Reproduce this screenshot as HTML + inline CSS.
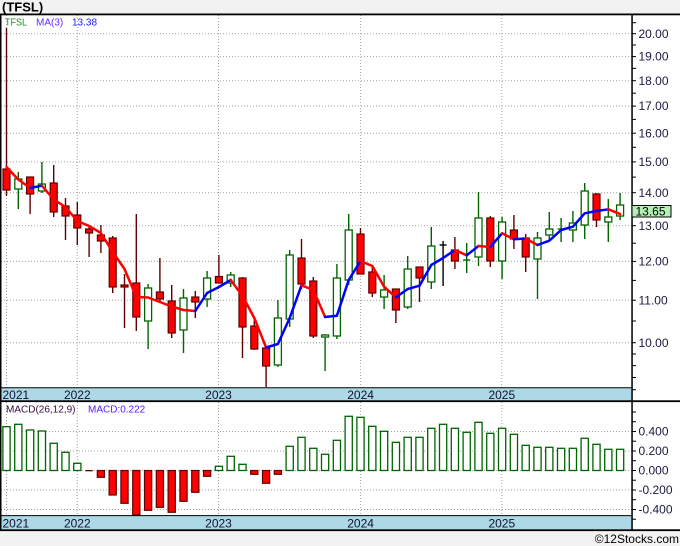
<!DOCTYPE html>
<html><head><meta charset="utf-8"><style>
html,body{margin:0;padding:0;background:#f2f2f2;}
svg{display:block;font-family:"Liberation Sans",sans-serif;}
.rw{stroke:#600000;stroke-width:1.4}
.rb{fill:#ff0000;stroke:#600000;stroke-width:1.2}
.gw{stroke:#006400;stroke-width:1.4}
.gb{fill:#ffffff;stroke:#006400;stroke-width:1.3}
.grid{stroke:#a0a0a0;stroke-width:1;stroke-dasharray:1,2}
.ax{font-size:12px;fill:#1a1a40}
.yr{font-size:12px;fill:#101030}
.tk{stroke:#000;stroke-width:1}
</style></head><body>
<svg width="680" height="546" viewBox="0 0 680 546" xmlns="http://www.w3.org/2000/svg">
<rect x="0" y="0" width="680" height="546" fill="#f2f2f2"/>
<rect x="0" y="14" width="680" height="516" fill="#ffffff"/>
<text x="2" y="11.5" font-size="13" font-weight="bold" fill="#000">(TFSL)</text>

<!-- main grid -->
<g class="grid">
<line x1="1" x2="632" y1="342.7" y2="342.7"/><line x1="1" x2="632" y1="300.2" y2="300.2"/>
<line x1="1" x2="632" y1="261.4" y2="261.4"/><line x1="1" x2="632" y1="225.7" y2="225.7"/>
<line x1="1" x2="632" y1="192.7" y2="192.7"/><line x1="1" x2="632" y1="161.9" y2="161.9"/>
<line x1="1" x2="632" y1="133.2" y2="133.2"/><line x1="1" x2="632" y1="106.1" y2="106.1"/>
<line x1="1" x2="632" y1="80.7" y2="80.7"/><line x1="1" x2="632" y1="56.6" y2="56.6"/>
<line x1="1" x2="632" y1="33.7" y2="33.7"/>
<line x1="6.5" x2="6.5" y1="15" y2="388"/><line x1="77.3" x2="77.3" y1="15" y2="388"/>
<line x1="218.5" x2="218.5" y1="15" y2="388"/><line x1="360.6" x2="360.6" y1="15" y2="388"/>
<line x1="501.8" x2="501.8" y1="15" y2="388"/>
<!-- macd grid -->
<line x1="1" x2="632" y1="431.5" y2="431.5"/><line x1="1" x2="632" y1="451" y2="451"/>
<line x1="1" x2="632" y1="470.5" y2="470.5"/><line x1="1" x2="632" y1="490" y2="490"/>
<line x1="1" x2="632" y1="509.5" y2="509.5"/>
<line x1="6.5" x2="6.5" y1="402" y2="516"/><line x1="77.3" x2="77.3" y1="402" y2="516"/>
<line x1="218.5" x2="218.5" y1="402" y2="516"/><line x1="360.6" x2="360.6" y1="402" y2="516"/>
<line x1="501.8" x2="501.8" y1="402" y2="516"/>
</g>

<!-- candles -->
<g>
<line class="rw" x1="6.5" x2="6.5" y1="28" y2="196"/><rect class="rb" x="3" y="169" width="7" height="21"/>
<line class="gw" x1="18.3" x2="18.3" y1="172" y2="209"/><rect class="gb" x="14.8" y="179" width="7" height="10"/>
<line class="rw" x1="30.1" x2="30.1" y1="177" y2="214"/><rect class="rb" x="26.6" y="177" width="7" height="17"/>
<line class="gw" x1="41.9" x2="41.9" y1="162" y2="193"/><rect class="gb" x="38.4" y="184" width="7" height="7"/>
<line class="rw" x1="53.7" x2="53.7" y1="165" y2="217"/><rect class="rb" x="50.2" y="183" width="7" height="29"/>
<line class="rw" x1="65.5" x2="65.5" y1="198" y2="240"/><rect class="rb" x="62" y="206" width="7" height="10"/>
<line class="rw" x1="77.3" x2="77.3" y1="202" y2="245"/><rect class="rb" x="73.8" y="215" width="7" height="13"/>
<line class="rw" x1="89.1" x2="89.1" y1="227" y2="257"/><rect class="rb" x="85.6" y="229" width="7" height="4"/>
<line class="rw" x1="100.9" x2="100.9" y1="225" y2="253"/><rect class="rb" x="97.4" y="235" width="7" height="6"/>
<line class="rw" x1="112.7" x2="112.7" y1="236" y2="293"/><rect class="rb" x="109.2" y="238" width="7" height="49"/>
<line class="rw" x1="124.5" x2="124.5" y1="274" y2="328"/><rect class="rb" x="121" y="285" width="7" height="2"/>
<line class="rw" x1="136.3" x2="136.3" y1="214" y2="331"/><rect class="rb" x="132.8" y="283" width="7" height="34"/>
<line class="gw" x1="148.1" x2="148.1" y1="284" y2="349"/><rect class="gb" x="144.6" y="288" width="7" height="33"/>
<line class="rw" x1="159.9" x2="159.9" y1="258" y2="303"/><rect class="rb" x="156.4" y="292" width="7" height="7"/>
<line class="rw" x1="171.7" x2="171.7" y1="285" y2="338"/><rect class="rb" x="168.2" y="301" width="7" height="32"/>
<line class="gw" x1="183.5" x2="183.5" y1="289" y2="353"/><rect class="gb" x="180" y="298" width="7" height="32"/>
<line class="rw" x1="195.3" x2="195.3" y1="291" y2="318"/><rect class="rb" x="191.8" y="297" width="7" height="5"/>
<line class="gw" x1="207.1" x2="207.1" y1="271" y2="307"/><rect class="gb" x="203.6" y="278" width="7" height="21"/>
<line class="rw" x1="218.9" x2="218.9" y1="255" y2="283"/><rect class="rb" x="215.4" y="276.5" width="7" height="6.5"/>
<line class="gw" x1="230.7" x2="230.7" y1="272" y2="287"/><rect class="gb" x="227.2" y="275" width="7" height="8"/>
<line class="rw" x1="242.5" x2="242.5" y1="277" y2="358"/><rect class="rb" x="239" y="278" width="7" height="49"/>
<line class="rw" x1="254.3" x2="254.3" y1="320" y2="350"/><rect class="rb" x="250.8" y="326" width="7" height="23"/>
<line class="rw" x1="266.1" x2="266.1" y1="347" y2="387"/><rect class="rb" x="262.6" y="348" width="7" height="18"/>
<line class="gw" x1="277.9" x2="277.9" y1="300" y2="367"/><rect class="gb" x="274.4" y="318" width="7" height="47"/>
<line class="gw" x1="289.7" x2="289.7" y1="250" y2="327"/><rect class="gb" x="286.2" y="255" width="7" height="64"/>
<line class="rw" x1="301.5" x2="301.5" y1="239" y2="289"/><rect class="rb" x="298" y="258" width="7" height="26"/>
<line class="rw" x1="313.3" x2="313.3" y1="277" y2="338"/><rect class="rb" x="309.8" y="281" width="7" height="55"/>
<line class="gw" x1="325.1" x2="325.1" y1="334" y2="371"/><rect class="gb" x="321.6" y="335" width="7" height="2"/>
<line class="gw" x1="336.9" x2="336.9" y1="264" y2="339"/><rect class="gb" x="333.4" y="278" width="7" height="58"/>
<line class="gw" x1="348.7" x2="348.7" y1="214" y2="285"/><rect class="gb" x="345.2" y="230" width="7" height="50"/>
<line class="rw" x1="360.5" x2="360.5" y1="228" y2="274"/><rect class="rb" x="357" y="234" width="7" height="40"/>
<line class="rw" x1="372.3" x2="372.3" y1="265" y2="297"/><rect class="rb" x="368.8" y="272" width="7" height="21"/>
<line class="gw" x1="384.1" x2="384.1" y1="275" y2="309"/><rect class="gb" x="380.6" y="290" width="7" height="7"/>
<line class="rw" x1="395.9" x2="395.9" y1="289" y2="323"/><rect class="rb" x="392.4" y="289" width="7" height="21"/>
<line class="gw" x1="407.7" x2="407.7" y1="256" y2="309"/><rect class="gb" x="404.2" y="269" width="7" height="38"/>
<line class="rw" x1="419.5" x2="419.5" y1="267" y2="302"/><rect class="rb" x="416" y="267" width="7" height="11"/>
<line class="gw" x1="431.3" x2="431.3" y1="227" y2="289"/><rect class="gb" x="427.8" y="246" width="7" height="36"/>
<line x1="443.1" x2="443.1" y1="241" y2="286" stroke="#000" stroke-width="1.4"/><line x1="439.6" x2="446.6" y1="245" y2="245" stroke="#000" stroke-width="1.4"/>
<line class="rw" x1="454.9" x2="454.9" y1="237" y2="269"/><rect class="rb" x="451.4" y="250" width="7" height="11"/>
<line class="gw" x1="466.7" x2="466.7" y1="243" y2="273"/><line class="gw" x1="463.2" x2="470.2" y1="260" y2="260"/>
<line class="gw" x1="478.5" x2="478.5" y1="192" y2="266"/><rect class="gb" x="475" y="218" width="7" height="39"/>
<line class="rw" x1="490.3" x2="490.3" y1="216" y2="267"/><rect class="rb" x="486.8" y="218" width="7" height="43"/>
<line class="gw" x1="502.1" x2="502.1" y1="217" y2="279"/><rect class="gb" x="498.6" y="222" width="7" height="39"/>
<line class="rw" x1="513.9" x2="513.9" y1="215" y2="249"/><rect class="rb" x="510.4" y="230" width="7" height="9"/>
<line class="rw" x1="525.7" x2="525.7" y1="234" y2="272"/><rect class="rb" x="522.2" y="238" width="7" height="19"/>
<line class="gw" x1="537.5" x2="537.5" y1="232" y2="299"/><rect class="gb" x="534" y="238" width="7" height="21"/>
<line class="gw" x1="549.3" x2="549.3" y1="212" y2="240"/><rect class="gb" x="545.8" y="229" width="7" height="6"/>
<line class="gw" x1="561.1" x2="561.1" y1="218" y2="242"/><line class="gw" x1="557.6" x2="564.6" y1="229" y2="229"/>
<line class="gw" x1="572.9" x2="572.9" y1="211" y2="242"/><rect class="gb" x="569.4" y="223" width="7" height="7"/>
<line class="gw" x1="584.7" x2="584.7" y1="183" y2="239"/><rect class="gb" x="581.2" y="191" width="7" height="34"/>
<line class="rw" x1="596.5" x2="596.5" y1="193" y2="227"/><rect class="rb" x="593" y="194" width="7" height="26"/>
<line class="gw" x1="608.3" x2="608.3" y1="199" y2="242"/><rect class="gb" x="604.8" y="217" width="7" height="5"/>
<line class="gw" x1="620.1" x2="620.1" y1="193" y2="220"/><rect class="gb" x="616.6" y="205" width="7" height="11"/>
</g>

<!-- MA(3) -->
<g fill="none" stroke-width="2.5" stroke-linejoin="round" stroke-linecap="round">
<polyline stroke="#ff0000" points="6.5,167 18.3,179.5 30.1,188"/>
<polyline stroke="#0000ff" points="30.1,188 41.9,185.7"/>
<polyline stroke="#ff0000" points="41.9,185.7 53.7,199.5 65.5,207 77.3,221 89.1,226 100.9,233 112.7,252 124.5,269 136.3,297 148.1,297.5 159.9,302 171.7,306.5 183.5,310 195.3,311"/>
<polyline stroke="#0000ff" points="195.3,311 207.1,293 218.9,287 230.7,280"/>
<polyline stroke="#ff0000" points="230.7,280 242.5,296 254.3,318 266.1,347.5"/>
<polyline stroke="#0000ff" points="266.1,347.5 277.9,344 289.7,318 301.5,285.3"/>
<polyline stroke="#ff0000" points="301.5,285.3 313.3,290 325.1,317"/>
<polyline stroke="#0000ff" points="325.1,317 336.9,315.7 348.7,280 360.5,261"/>
<polyline stroke="#ff0000" points="360.5,261 372.3,266 384.1,286.7 395.9,297.3"/>
<polyline stroke="#0000ff" points="395.9,297.3 407.7,289 419.5,285.7 431.3,265 443.1,258 454.9,250"/>
<polyline stroke="#ff0000" points="454.9,250 466.7,255.3"/>
<polyline stroke="#0000ff" points="466.7,255.3 478.5,246"/>
<polyline stroke="#ff0000" points="478.5,246 490.3,247"/>
<polyline stroke="#0000ff" points="490.3,247 502.1,233.3"/>
<polyline stroke="#ff0000" points="502.1,233.3 513.9,239.3"/>
<polyline stroke="#0000ff" points="513.9,239.3 525.7,238.5"/>
<polyline stroke="#ff0000" points="525.7,238.5 537.5,245"/>
<polyline stroke="#0000ff" points="537.5,245 549.3,240.7 561.1,230 572.9,226.7 584.7,213.3 596.5,211 608.3,209.3"/>
<polyline stroke="#ff0000" points="608.3,209.3 620.1,214"/>
</g>

<!-- legend -->
<text x="5" y="25.7" font-size="10" fill="#228b22" textLength="22" lengthAdjust="spacingAndGlyphs">TFSL</text>
<text x="36" y="25.7" font-size="10" fill="#6a2cff">MA(3)</text>
<text x="72" y="25.7" font-size="10" fill="#1a1aff">13.38</text>

<!-- MACD bars -->
<g>
<rect class="gb" x="2.9" y="426.7" width="7.2" height="43.8"/>
<rect class="gb" x="14.7" y="424.3" width="7.2" height="46.2"/>
<rect class="gb" x="26.5" y="430" width="7.2" height="40.5"/>
<rect class="gb" x="38.3" y="431" width="7.2" height="39.5"/>
<rect class="gb" x="50.1" y="443.3" width="7.2" height="27.2"/>
<rect class="gb" x="61.9" y="452.3" width="7.2" height="18.2"/>
<rect class="gb" x="73.7" y="463.3" width="7.2" height="7.2"/>
<rect x="85.5" y="470" width="7.2" height="1.3" fill="#600000"/>
<rect class="rb" x="97.3" y="470.5" width="7.2" height="6.8"/>
<rect class="rb" x="109.1" y="470.5" width="7.2" height="24.5"/>
<rect class="rb" x="120.9" y="470.5" width="7.2" height="32.8"/>
<rect class="rb" x="132.7" y="470.5" width="7.2" height="44.5"/>
<rect class="rb" x="144.5" y="470.5" width="7.2" height="39.8"/>
<rect class="rb" x="156.3" y="470.5" width="7.2" height="36.8"/>
<rect class="rb" x="168.1" y="470.5" width="7.2" height="41.8"/>
<rect class="rb" x="179.9" y="470.5" width="7.2" height="30.8"/>
<rect class="rb" x="191.7" y="470.5" width="7.2" height="21.8"/>
<rect class="rb" x="203.5" y="470.5" width="7.2" height="5.8"/>
<rect class="gb" x="215.3" y="466.3" width="7.2" height="4.2"/>
<rect class="gb" x="227.1" y="456.3" width="7.2" height="14.2"/>
<rect class="gb" x="238.9" y="464.3" width="7.2" height="6.2"/>
<rect class="rb" x="250.7" y="470.5" width="7.2" height="3.8"/>
<rect class="rb" x="262.5" y="470.5" width="7.2" height="12.8"/>
<rect class="rb" x="274.3" y="470.5" width="7.2" height="3.8"/>
<rect class="gb" x="286.1" y="446.3" width="7.2" height="24.2"/>
<rect class="gb" x="297.9" y="437.3" width="7.2" height="33.2"/>
<rect class="gb" x="309.7" y="448.3" width="7.2" height="22.2"/>
<rect class="gb" x="321.5" y="454.3" width="7.2" height="16.2"/>
<rect class="gb" x="333.3" y="440.3" width="7.2" height="30.2"/>
<rect class="gb" x="345.1" y="416.3" width="7.2" height="54.2"/>
<rect class="gb" x="356.9" y="417.3" width="7.2" height="53.2"/>
<rect class="gb" x="368.7" y="426.3" width="7.2" height="44.2"/>
<rect class="gb" x="380.5" y="431.3" width="7.2" height="39.2"/>
<rect class="gb" x="392.3" y="442.3" width="7.2" height="28.2"/>
<rect class="gb" x="404.1" y="437.3" width="7.2" height="33.2"/>
<rect class="gb" x="415.9" y="437.3" width="7.2" height="33.2"/>
<rect class="gb" x="427.7" y="428.3" width="7.2" height="42.2"/>
<rect class="gb" x="439.5" y="424.3" width="7.2" height="46.2"/>
<rect class="gb" x="451.3" y="428.3" width="7.2" height="42.2"/>
<rect class="gb" x="463.1" y="432.3" width="7.2" height="38.2"/>
<rect class="gb" x="474.9" y="422.3" width="7.2" height="48.2"/>
<rect class="gb" x="486.7" y="433.3" width="7.2" height="37.2"/>
<rect class="gb" x="498.5" y="428.3" width="7.2" height="42.2"/>
<rect class="gb" x="510.3" y="434.3" width="7.2" height="36.2"/>
<rect class="gb" x="522.1" y="445.3" width="7.2" height="25.2"/>
<rect class="gb" x="533.9" y="447.3" width="7.2" height="23.2"/>
<rect class="gb" x="545.7" y="447.3" width="7.2" height="23.2"/>
<rect class="gb" x="557.5" y="448.3" width="7.2" height="22.2"/>
<rect class="gb" x="569.3" y="448.3" width="7.2" height="22.2"/>
<rect class="gb" x="581.1" y="438.3" width="7.2" height="32.2"/>
<rect class="gb" x="592.9" y="444.3" width="7.2" height="26.2"/>
<rect class="gb" x="604.7" y="449.3" width="7.2" height="21.2"/>
<rect class="gb" x="616.5" y="449.3" width="7.2" height="21.2"/>
</g>

<text x="6" y="412.5" font-size="10" fill="#3a0a3a">MACD(26,12,9)</text>
<text x="88" y="412.5" font-size="10" fill="#5a1aff">MACD:0.222</text>

<!-- date bands -->
<rect x="1" y="388" width="631" height="12.5" fill="#add8e6"/>
<line x1="1" x2="632" y1="387.8" y2="387.8" stroke="#000" stroke-width="1"/>
<rect x="1" y="515.8" width="631" height="13.5" fill="#add8e6"/>
<line x1="1" x2="632" y1="515.6" y2="515.6" stroke="#000" stroke-width="1"/>
<g class="yr">
<text x="2.5" y="399">2021</text>
<text x="77.3" y="399" text-anchor="middle">2022</text>
<text x="218.5" y="399" text-anchor="middle">2023</text>
<text x="360.6" y="399" text-anchor="middle">2024</text>
<text x="501.8" y="399" text-anchor="middle">2025</text>
<text x="2.5" y="527.5">2021</text>
<text x="77.3" y="527.5" text-anchor="middle">2022</text>
<text x="218.5" y="527.5" text-anchor="middle">2023</text>
<text x="360.6" y="527.5" text-anchor="middle">2024</text>
<text x="501.8" y="527.5" text-anchor="middle">2025</text>
</g>

<!-- borders -->
<rect x="0" y="13.5" width="680" height="1.8" fill="#000"/>
<rect x="0" y="400.3" width="680" height="1.8" fill="#000"/>
<rect x="0" y="529.3" width="680" height="1.8" fill="#000"/>
<rect x="0" y="14" width="1.5" height="517" fill="#000"/>
<rect x="631.3" y="14" width="1.5" height="517" fill="#000"/>

<!-- right axis ticks -->
<g class="tk">
<line x1="632" x2="636" y1="22.7" y2="22.7"/><line x1="632" x2="636" y1="33.7" y2="33.7"/>
<line x1="632" x2="636" y1="45" y2="45"/><line x1="632" x2="636" y1="56.6" y2="56.6"/>
<line x1="632" x2="636" y1="68.4" y2="68.4"/><line x1="632" x2="636" y1="80.7" y2="80.7"/>
<line x1="632" x2="636" y1="93.2" y2="93.2"/><line x1="632" x2="636" y1="106.1" y2="106.1"/>
<line x1="632" x2="636" y1="119.4" y2="119.4"/><line x1="632" x2="636" y1="133.2" y2="133.2"/>
<line x1="632" x2="636" y1="147.3" y2="147.3"/><line x1="632" x2="636" y1="161.9" y2="161.9"/>
<line x1="632" x2="636" y1="177.1" y2="177.1"/><line x1="632" x2="636" y1="192.7" y2="192.7"/>
<line x1="632" x2="636" y1="208.9" y2="208.9"/><line x1="632" x2="636" y1="225.7" y2="225.7"/>
<line x1="632" x2="636" y1="243.2" y2="243.2"/><line x1="632" x2="636" y1="261.4" y2="261.4"/>
<line x1="632" x2="636" y1="280.4" y2="280.4"/><line x1="632" x2="636" y1="300.2" y2="300.2"/>
<line x1="632" x2="636" y1="321" y2="321"/><line x1="632" x2="636" y1="342.7" y2="342.7"/>
<line x1="632" x2="636" y1="354" y2="354"/><line x1="632" x2="636" y1="365.6" y2="365.6"/>
<line x1="632" x2="636" y1="377.5" y2="377.5"/><line x1="632" x2="636" y1="389.7" y2="389.7"/>
<line x1="632" x2="636" y1="412" y2="412"/><line x1="632" x2="636" y1="421.7" y2="421.7"/>
<line x1="632" x2="636" y1="431.5" y2="431.5"/><line x1="632" x2="636" y1="441.2" y2="441.2"/>
<line x1="632" x2="636" y1="451" y2="451"/><line x1="632" x2="636" y1="460.7" y2="460.7"/>
<line x1="632" x2="636" y1="470.5" y2="470.5"/><line x1="632" x2="636" y1="480.2" y2="480.2"/>
<line x1="632" x2="636" y1="490" y2="490"/><line x1="632" x2="636" y1="499.7" y2="499.7"/>
<line x1="632" x2="636" y1="509.5" y2="509.5"/><line x1="632" x2="636" y1="519.2" y2="519.2"/>
</g>
<g class="ax">
<text x="638.5" y="37.8">20.00</text>
<text x="638.5" y="60.7">19.00</text>
<text x="638.5" y="84.8">18.00</text>
<text x="638.5" y="110.2">17.00</text>
<text x="638.5" y="137.3">16.00</text>
<text x="638.5" y="166">15.00</text>
<text x="638.5" y="196.8">14.00</text>
<text x="638.5" y="229.8">13.00</text>
<text x="638.5" y="265.5">12.00</text>
<text x="638.5" y="304.3">11.00</text>
<text x="638.5" y="346.8">10.00</text>
<text x="638.5" y="435.6">0.400</text>
<text x="638.5" y="455.1">0.200</text>
<text x="638.5" y="474.6">0.000</text>
<text x="638.5" y="494.1">-0.200</text>
<text x="638.5" y="513.6">-0.400</text>
</g>
<rect x="632" y="205.5" width="39" height="11.5" fill="#b4f0b4" stroke="#000" stroke-width="1"/>
<text x="635.5" y="215.5" font-size="12" fill="#000">13.65</text>

<text x="679" y="543" font-size="12" fill="#000" text-anchor="end">©12Stocks.com</text>
</svg>
</body></html>
